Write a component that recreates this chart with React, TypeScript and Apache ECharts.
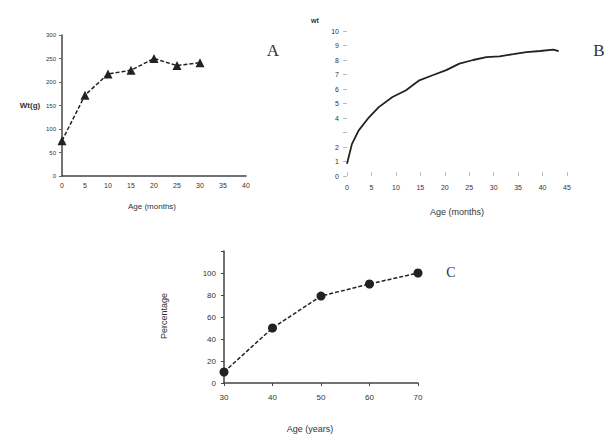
import React, { useEffect, useRef } from "react";
import * as echarts from "echarts";

// Panel A: weight vs age (months)
const aAge = [0, 5, 10, 15, 20, 25, 30];
const aWeight = [75, 172, 217, 225, 250, 235, 241];

// Panel B: growth curve vs age (months)
const bAge = [0, 1, 2.4, 4.5, 6.5, 9.3, 12, 14.8, 17.5, 20.3, 23, 25.8, 28.5, 31.2, 34, 36.7, 39.5, 42.2, 43.3];
const bValue = [0.85, 2.2, 3.15, 4.05, 4.75, 5.45, 5.9, 6.6, 6.95, 7.3, 7.75, 8.0, 8.2, 8.25, 8.4, 8.55, 8.62, 8.72, 8.62];

// Panel C: percentage vs age (years)
const cAge = [30, 40, 50, 60, 70];
const cPercent = [10, 50, 79, 90, 100];

const SANS = "Liberation Sans";
const SERIF = "Liberation Serif";
const INK = "#222";

export default function App() {
  const ref = useRef<HTMLDivElement>(null);
  useEffect(() => {
    if (!ref.current) return;
    const chart = echarts.init(ref.current, null, { renderer: "svg" });
    const lbl = (size: number) => ({ color: "#333", fontFamily: SANS, fontSize: size });
    chart.setOption({
      animation: false,
      backgroundColor: "#fff",
      grid: [
        { left: 62, top: 35, width: 184, height: 141 },
        { left: 347, top: 31, width: 220, height: 145 },
        { left: 224, top: 251, width: 194, height: 132 },
      ],
      xAxis: [
        {
          gridIndex: 0, type: "value", min: 0, max: 40, interval: 5,
          axisLine: { lineStyle: { color: "#444", width: 1.5 } },
          axisTick: { show: false },
          splitLine: { show: false },
          axisLabel: { ...lbl(7), margin: 6 },
        },
        {
          gridIndex: 1, type: "value", min: 0, max: 45, interval: 5,
          axisLine: { show: false },
          axisTick: { show: true, inside: true, length: 4, lineStyle: { color: "#bbb" } },
          splitLine: { show: false },
          axisLabel: { ...lbl(7), margin: 8 },
        },
        {
          gridIndex: 2, type: "value", min: 30, max: 70, interval: 10,
          axisLine: { lineStyle: { color: "#444", width: 1.5 } },
          axisTick: { length: 3, lineStyle: { color: "#444" } },
          splitLine: { show: false },
          axisLabel: { ...lbl(8), margin: 10 },
        },
      ],
      yAxis: [
        {
          gridIndex: 0, type: "value", min: 0, max: 300, interval: 50,
          axisLine: { show: true, lineStyle: { color: "#444", width: 1.5 } },
          axisTick: { show: true, length: 3, lineStyle: { color: "#666" } },
          splitLine: { show: false },
          axisLabel: { ...lbl(6), margin: 6 },
        },
        {
          gridIndex: 1, type: "value", min: 0, max: 10, interval: 1,
          axisLine: { show: false },
          axisTick: { show: true, length: 4, lineStyle: { color: "#bbb" } },
          splitLine: { show: false },
          axisLabel: { ...lbl(7), margin: 8, formatter: (v: number) => (v === 3 ? "" : String(v)) },
        },
        {
          gridIndex: 2, type: "value", min: 0, max: 120, interval: 20,
          axisLine: { show: true, lineStyle: { color: "#444", width: 1.5 } },
          axisTick: { show: true, length: 3, lineStyle: { color: "#444" } },
          splitLine: { show: false },
          axisLabel: { ...lbl(8), margin: 8, formatter: (v: number) => (v === 120 ? "" : String(v)) },
        },
      ],
      series: [
        {
          type: "line", xAxisIndex: 0, yAxisIndex: 0,
          data: aAge.map((x, i) => [x, aWeight[i]]),
          lineStyle: { color: INK, width: 1.5, type: [4, 2] },
          symbol: "triangle", symbolSize: 9,
          itemStyle: { color: INK },
        },
        {
          type: "line", xAxisIndex: 1, yAxisIndex: 1,
          data: bAge.map((x, i) => [x, bValue[i]]),
          lineStyle: { color: INK, width: 1.8 },
          symbol: "none",
        },
        {
          type: "line", xAxisIndex: 2, yAxisIndex: 2,
          data: cAge.map((x, i) => [x, cPercent[i]]),
          lineStyle: { color: INK, width: 1.5, type: [4, 2] },
          symbol: "circle", symbolSize: 9,
          itemStyle: { color: INK },
        },
      ],
      graphic: [
        { type: "text", x: 273, y: 50, style: { text: "A", font: `17px "${SERIF}"`, fill: "#333", align: "center", verticalAlign: "middle" } },
        { type: "text", x: 599, y: 50, style: { text: "B", font: `17px "${SERIF}"`, fill: "#333", align: "center", verticalAlign: "middle" } },
        { type: "text", x: 451, y: 272, style: { text: "C", font: `14px "${SERIF}"`, fill: "#333", align: "center", verticalAlign: "middle" } },
        { type: "text", x: 30, y: 105, style: { text: "Wt(g)", font: `bold 8px "${SANS}"`, fill: "#333", align: "center", verticalAlign: "middle" } },
        { type: "text", x: 152, y: 206, style: { text: "Age (months)", font: `8px "${SANS}"`, fill: "#333", align: "center", verticalAlign: "middle" } },
        { type: "text", x: 315, y: 20, style: { text: "wt", font: `bold 7px "${SANS}"`, fill: "#333", align: "center", verticalAlign: "middle" } },
        { type: "text", x: 457, y: 212, style: { text: "Age (months)", font: `9px "${SANS}"`, fill: "#333", align: "center", verticalAlign: "middle" } },
        { type: "text", x: 310, y: 429, style: { text: "Age (years)", font: `9px "${SANS}"`, fill: "#333", align: "center", verticalAlign: "middle" } },
        { type: "text", x: 164, y: 316, rotation: Math.PI / 2, style: { text: "Percentage", font: `9px "${SANS}"`, fill: "#333", align: "center", verticalAlign: "middle" } },
      ],
    });
    return () => chart.dispose();
  }, []);
  return <div ref={ref} style={{ position: "fixed", left: 0, top: 0, width: 610, height: 435 }} />;
}
